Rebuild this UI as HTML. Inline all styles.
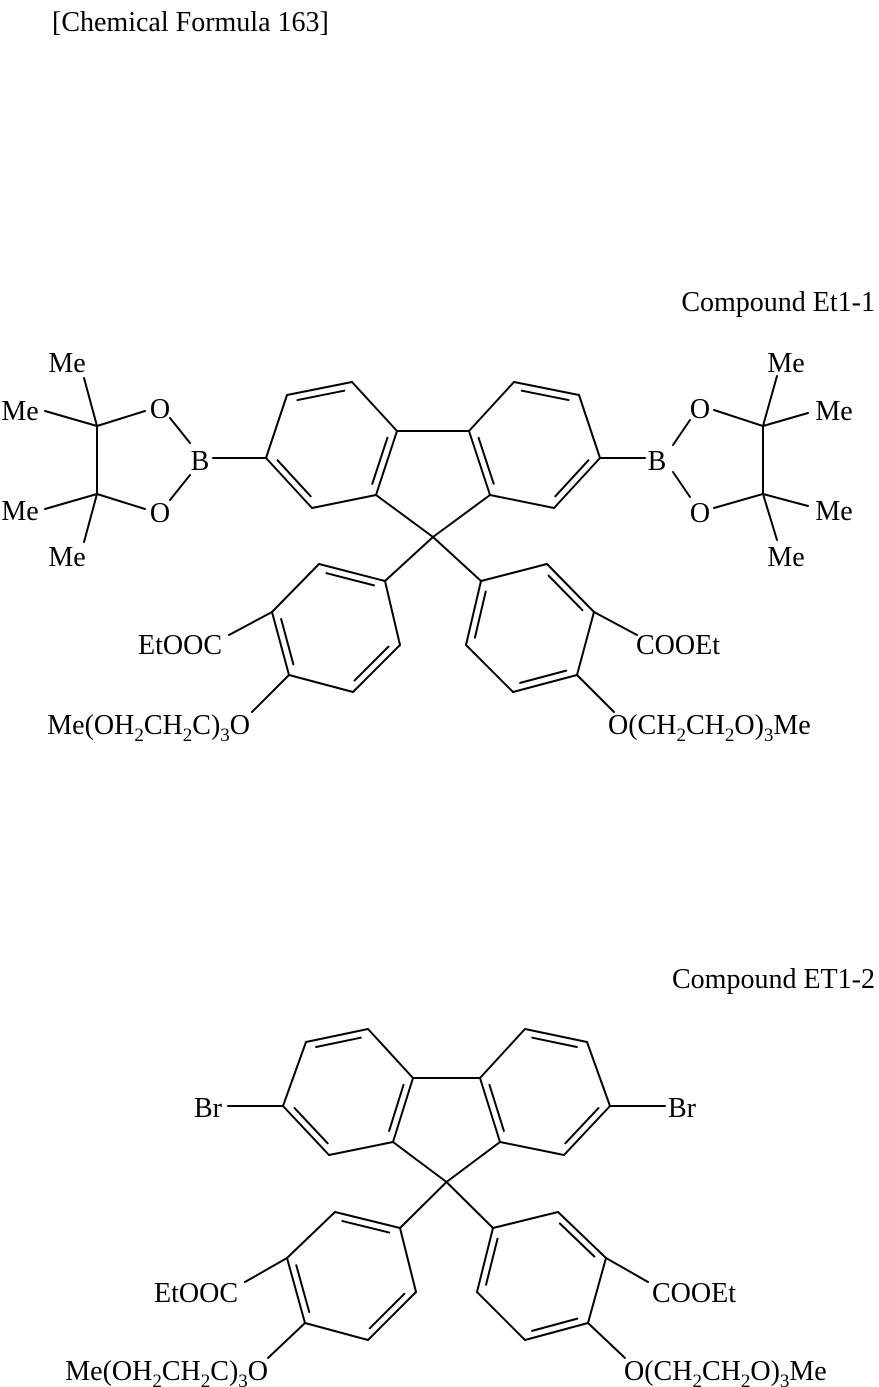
<!DOCTYPE html>
<html><head><meta charset="utf-8"><style>
body{margin:0;background:#fff;}
svg{display:block;}
text{font-family:"Liberation Serif",serif;font-size:28px;fill:#000;}
</style></head><body>
<svg id="s" width="879" height="1387" viewBox="0 0 879 1387" xmlns="http://www.w3.org/2000/svg">
<g id="b" stroke="#000" stroke-width="2" fill="none" stroke-linecap="round"></g>
<text x="52" y="31">[Chemical Formula 163]</text>
<text x="875" y="311" text-anchor="end">Compound Et1-1</text>
<text x="875" y="988" text-anchor="end">Compound ET1-2</text>
<!-- top compound -->
<text x="67" y="372" text-anchor="middle">Me</text>
<text x="20" y="420" text-anchor="middle">Me</text>
<text x="20" y="520" text-anchor="middle">Me</text>
<text x="67" y="566" text-anchor="middle">Me</text>
<text x="160" y="418" text-anchor="middle">O</text>
<text x="160" y="522" text-anchor="middle">O</text>
<text x="200" y="470" text-anchor="middle">B</text>
<text x="786" y="372" text-anchor="middle">Me</text>
<text x="834" y="420" text-anchor="middle">Me</text>
<text x="834" y="520" text-anchor="middle">Me</text>
<text x="786" y="566" text-anchor="middle">Me</text>
<text x="700" y="418" text-anchor="middle">O</text>
<text x="700" y="522" text-anchor="middle">O</text>
<text x="657" y="470" text-anchor="middle">B</text>
<text x="222" y="654" text-anchor="end">EtOOC</text>
<text x="636" y="654">COOEt</text>
<text x="250" y="734" text-anchor="end">Me(OH<tspan font-size="19" dy="7">2</tspan><tspan dy="-7">CH</tspan><tspan font-size="19" dy="7">2</tspan><tspan dy="-7">C)</tspan><tspan font-size="19" dy="7">3</tspan><tspan dy="-7">O</tspan></text>
<text x="608" y="734">O(CH<tspan font-size="19" dy="7">2</tspan><tspan dy="-7">CH</tspan><tspan font-size="19" dy="7">2</tspan><tspan dy="-7">O)</tspan><tspan font-size="19" dy="7">3</tspan><tspan dy="-7">Me</tspan></text>
<!-- bottom compound -->
<text x="222" y="1117" text-anchor="end">Br</text>
<text x="668" y="1117">Br</text>
<text x="238" y="1302" text-anchor="end">EtOOC</text>
<text x="652" y="1302">COOEt</text>
<text x="268" y="1380" text-anchor="end">Me(OH<tspan font-size="19" dy="7">2</tspan><tspan dy="-7">CH</tspan><tspan font-size="19" dy="7">2</tspan><tspan dy="-7">C)</tspan><tspan font-size="19" dy="7">3</tspan><tspan dy="-7">O</tspan></text>
<text x="624" y="1380">O(CH<tspan font-size="19" dy="7">2</tspan><tspan dy="-7">CH</tspan><tspan font-size="19" dy="7">2</tspan><tspan dy="-7">O)</tspan><tspan font-size="19" dy="7">3</tspan><tspan dy="-7">Me</tspan></text>
</svg>
<script>
var g=document.getElementById('b'),NS='http://www.w3.org/2000/svg';
function L(a,b,c,d){var l=document.createElementNS(NS,'line');l.setAttribute('x1',a);l.setAttribute('y1',b);l.setAttribute('x2',c);l.setAttribute('y2',d);g.appendChild(l);}
function ring(p,dbl){var cx=0,cy=0;p.forEach(function(q){cx+=q[0];cy+=q[1];});cx/=p.length;cy/=p.length;
for(var i=0;i<p.length;i++){var a=p[i],b=p[(i+1)%p.length];L(a[0],a[1],b[0],b[1]);
if(dbl.indexOf(i)>=0){var dx=b[0]-a[0],dy=b[1]-a[1],len=Math.hypot(dx,dy),nx=-dy/len,ny=dx/len;
var mx=(a[0]+b[0])/2-cx,my=(a[1]+b[1])/2-cy;if(nx*mx+ny*my>0){nx=-nx;ny=-ny;}
var o=7,s=0.14;L(a[0]+dx*s+nx*o,a[1]+dy*s+ny*o,b[0]-dx*s+nx*o,b[1]-dy*s+ny*o);}}}
function M(p,X){return p.map(function(q){return [X-q[0],q[1]];});}
function seg(e){for(var i=0;i+3<e.length;i+=4)L(e[i],e[i+1],e[i+2],e[i+3]);}
function mol(F,X){
 var lr=F.lr,c9=F.c9,lp=F.lp;
 ring(lr,[1,3,5]);
 var rr=M(lr,X);ring(rr,[1,3,5]);
 L(lr[3][0],lr[3][1],rr[3][0],rr[3][1]);
 L(lr[4][0],lr[4][1],c9[0],c9[1]);L(rr[4][0],rr[4][1],c9[0],c9[1]);
 ring(lp,[0,2,4]);
 var rp=M(lp,X);ring(rp,[1,3,5]);
 L(c9[0],c9[1],lp[0][0],lp[0][1]);L(c9[0],c9[1],rp[0][0],rp[0][1]);
 var e=F.ext;
 for(var i=0;i+3<e.length;i+=4){L(e[i],e[i+1],e[i+2],e[i+3]);L(X-e[i],e[i+1],X-e[i+2],e[i+3]);}
}
mol({lr:[[266,458],[287,395],[352,382],[397,431],[376,495],[312,508]],c9:[433,537],
 lp:[[385,581],[319,564],[272,612],[289,675],[353,692],[400,645]],
 ext:[272,612,229,635, 289,675,252,712]},866);
// left pinacol
seg([266,458,213,458, 97,426,97,494, 97,426,84,378, 97,426,45,411, 97,426,145,411,
 97,494,84,542, 97,494,45,509, 97,494,145,509, 170,418,190,443, 190,475,170,500]);
// right pinacol
seg([600,458,645,458, 763,426,763,494, 763,426,777,376, 763,426,808,413, 763,426,714,410,
 763,494,777,540, 763,494,808,506, 763,494,714,508, 690,420,673,445, 673,472,690,497]);
mol({lr:[[283,1106],[306,1042],[368,1029],[413,1078],[393,1142],[329,1155]],c9:[446.5,1182],
 lp:[[400,1228],[335,1212],[287,1258],[305,1323],[368,1340],[416,1292]],
 ext:[283,1106,228,1106, 287,1258,245,1282, 305,1323,268,1358]},893);
</script>
</body></html>
